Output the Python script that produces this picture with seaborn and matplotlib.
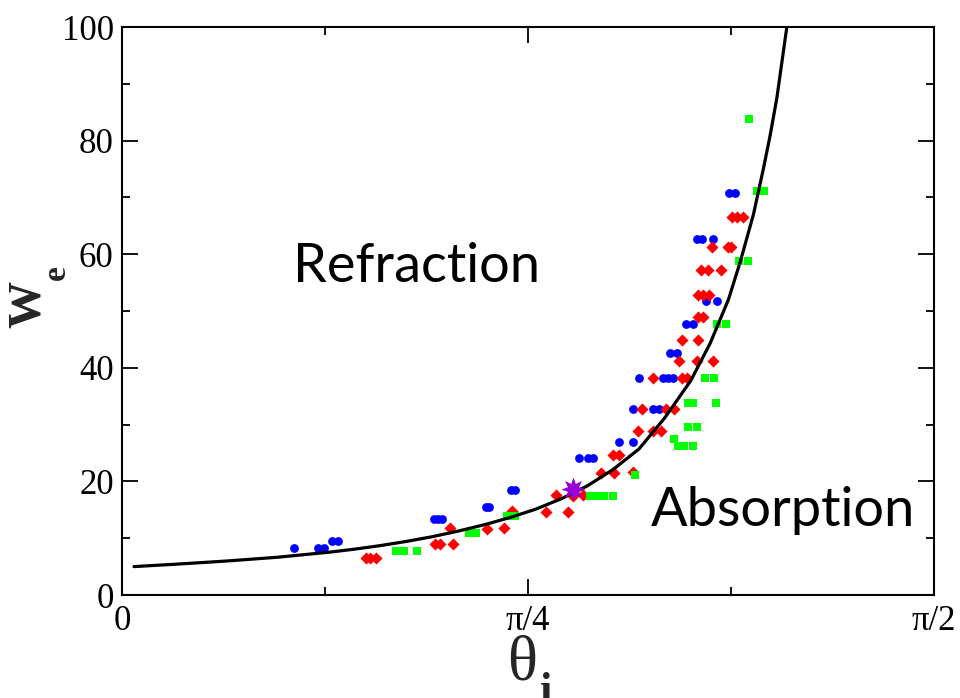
import numpy as np
import pandas as pd
import matplotlib
matplotlib.use("Agg")
import matplotlib.pyplot as plt
import seaborn as sns

# ---------------- data ----------------
blue_theta = [0.3318, 0.3782, 0.3898, 0.4072, 0.4188, 0.6026, 0.6113, 0.6200,
              0.7032, 0.7109, 0.7525, 0.7603, 0.8841, 0.9015, 0.9102, 0.9624,
              0.9891, 0.9891, 1.0266, 1.0388, 1.0007, 1.0471, 1.0568, 1.0665,
              1.0601, 1.0731, 1.0911, 1.1052, 1.1298, 1.1505, 1.1118, 1.1226,
              1.1439, 1.1743, 1.1849]
blue_we = [8.27, 8.27, 8.27, 9.51, 9.51, 13.38, 13.38, 13.38,
           15.49, 15.49, 18.49, 18.49, 24.07, 24.07, 24.07, 26.99,
           26.99, 32.66, 32.66, 32.66, 38.26, 38.26, 38.26, 38.26,
           42.66, 42.66, 47.71, 47.71, 51.76, 51.76, 62.59, 62.59,
           62.59, 70.77, 70.77]

red_theta = [0.4711, 0.4807, 0.4904, 0.6055, 0.6152, 0.6345, 0.6409, 0.7065,
             0.7390, 0.7550, 0.8197, 0.8390, 0.8628, 0.8731, 0.8924, 0.9261,
             0.9521, 0.9498, 0.9624, 0.9891, 0.9976, 1.0266, 1.0427, 1.0065,
             1.0517, 1.0678, 1.0277, 1.0828, 1.0936, 1.0781, 1.1129, 1.1439,
             1.0828, 1.1149, 1.1143, 1.1240, 1.1143, 1.1240, 1.1356, 1.1201,
             1.1342, 1.1582, 1.1420, 1.1723, 1.1781, 1.1800, 1.1897, 1.2013]
red_we = [6.57, 6.57, 6.57, 8.98, 8.98, 11.74, 8.98, 11.62,
          11.74, 14.84, 14.67, 17.66, 14.70, 17.43, 17.55, 21.53,
          21.43, 24.65, 24.65, 21.74, 28.87, 28.87, 28.87, 32.66,
          32.66, 32.66, 38.26, 38.26, 38.26, 41.11, 41.11, 41.11,
          44.89, 44.89, 49.00, 49.00, 52.82, 52.82, 52.82, 57.22,
          57.22, 57.22, 61.32, 61.32, 61.32, 66.60, 66.60, 66.60]

green_theta = [0.5301, 0.5455, 0.5707, 0.6713, 0.6848, 0.7448, 0.7603, 0.9053,
               0.9189, 0.9315, 0.9504, 0.9930, 1.0671, 1.0756, 1.0872, 1.1046,
               1.0949, 1.1124, 1.0949, 1.1055, 1.1491, 1.1278, 1.1452, 1.1510,
               1.1684, 1.1936, 1.2110, 1.2284, 1.2420, 1.2129]
green_we = [7.75, 7.75, 7.75, 10.86, 10.86, 13.96, 13.96, 17.38,
            17.38, 17.38, 17.38, 21.13, 27.46, 26.23, 26.23, 26.23,
            29.52, 29.52, 33.86, 33.86, 33.86, 38.26, 38.26, 47.71,
            47.71, 58.75, 58.75, 71.13, 71.13, 83.75]

star_theta = [0.8731]
star_we = [18.66]

curve_theta = [0.0232, 0.10, 0.20, 0.30, 0.40, 0.45, 0.50, 0.55, 0.60, 0.65,
               0.70, 0.75, 0.80, 0.85, 0.90, 0.95, 1.00, 1.05, 1.10, 1.1377,
               1.1731, 1.1958, 1.2215, 1.2409, 1.2538, 1.2668, 1.2861]
curve_we = [5.00, 5.40, 5.97, 6.64, 7.53, 8.07, 8.70, 9.43, 10.26, 11.24,
            12.35, 13.62, 15.10, 16.95, 19.20, 22.10, 25.70, 31.20, 37.70, 44.30,
            52.00, 58.60, 67.00, 75.10, 80.90, 87.50, 100.0]

x_tick_labels = ["0", "π/4", "π/2"]
y_tick_labels = ["0", "20", "40", "60", "80", "100"]

# ---------------- plotting ----------------
sns.set_style("ticks")
plt.rcParams["font.family"] = ["Liberation Serif", "DejaVu Serif"]

W, H = 960, 698
fig = plt.figure(figsize=(W / 100, H / 100), dpi=100)
ax = fig.add_axes([122 / W, 1 - 595 / H, (934 - 122) / W, (595 - 27) / H])

df_b = pd.DataFrame({"theta": blue_theta, "we": blue_we})
df_r = pd.DataFrame({"theta": red_theta, "we": red_we})
df_g = pd.DataFrame({"theta": green_theta, "we": green_we})
df_s = pd.DataFrame({"theta": star_theta, "we": star_we})
df_c = pd.DataFrame({"theta": curve_theta, "we": curve_we})

sns.scatterplot(data=df_b, x="theta", y="we", ax=ax, color="#0000FF", marker="o",
                s=40, linewidth=0, zorder=3)
sns.scatterplot(data=df_r, x="theta", y="we", ax=ax, color="#FF0000", marker="D",
                s=38, linewidth=0, zorder=3)
sns.scatterplot(data=df_g, x="theta", y="we", ax=ax, color="#00FF00", marker="s",
                s=36, linewidth=0, zorder=3)
sns.lineplot(data=df_c, x="theta", y="we", ax=ax, color="black", linewidth=2.3,
             sort=False, estimator=None, zorder=4)
sns.scatterplot(data=df_s, x="theta", y="we", ax=ax, color="#9400D3", marker=(8, 1, 0),
                s=300, linewidth=0, zorder=5)

ax.set_xlim(0, np.pi / 2)
ax.set_ylim(0, 100)
ax.set_xticks([0, np.pi / 4, np.pi / 2])
ax.set_xticklabels(x_tick_labels)
ax.set_xticks([np.pi / 8, 3 * np.pi / 8], minor=True)
ax.set_yticks([0, 20, 40, 60, 80, 100])
ax.set_yticklabels(y_tick_labels)
ax.set_yticks([10, 30, 50, 70, 90], minor=True)

ax.tick_params(which="both", direction="in", top=True, right=True, width=1.3,
               labelsize=25, colors="black")
ax.tick_params(which="major", length=11.5)
ax.tick_params(which="minor", length=6)
ax.tick_params(axis="x", which="major", pad=7)
ax.tick_params(axis="y", which="major", pad=6)
for sp in ax.spines.values():
    sp.set_visible(True)
    sp.set_linewidth(1.5)
    sp.set_color("black")
ax.set_xlabel("")
ax.set_ylabel("")

# axis titles built from separate pieces (large subscript drop as in the reference)
fig.text(29 / W, 1 - 304 / H, "W", rotation=90, fontsize=34, fontweight="bold",
         ha="center", va="center")
fig.text(56 / W, 1 - 273 / H, "e", rotation=90, fontsize=24, fontweight="bold",
         ha="center", va="center")
fig.text(522 / W, 1 - 680 / H, "θ", fontsize=45, ha="center", va="baseline")
fig.text(546 / W, 1 - 703 / H, "i", fontsize=32, fontweight="bold",
         ha="center", va="baseline")

ax.text(0.3626, 0.578, "Refraction", transform=ax.transAxes, fontsize=39,
        family=["Lato", "DejaVu Sans"], ha="center", va="center", color="black")
ax.text(0.8140, 0.148, "Absorption", transform=ax.transAxes, fontsize=39,
        family=["Lato", "DejaVu Sans"], ha="center", va="center", color="black")

fig.savefig("out.png", dpi=100)
